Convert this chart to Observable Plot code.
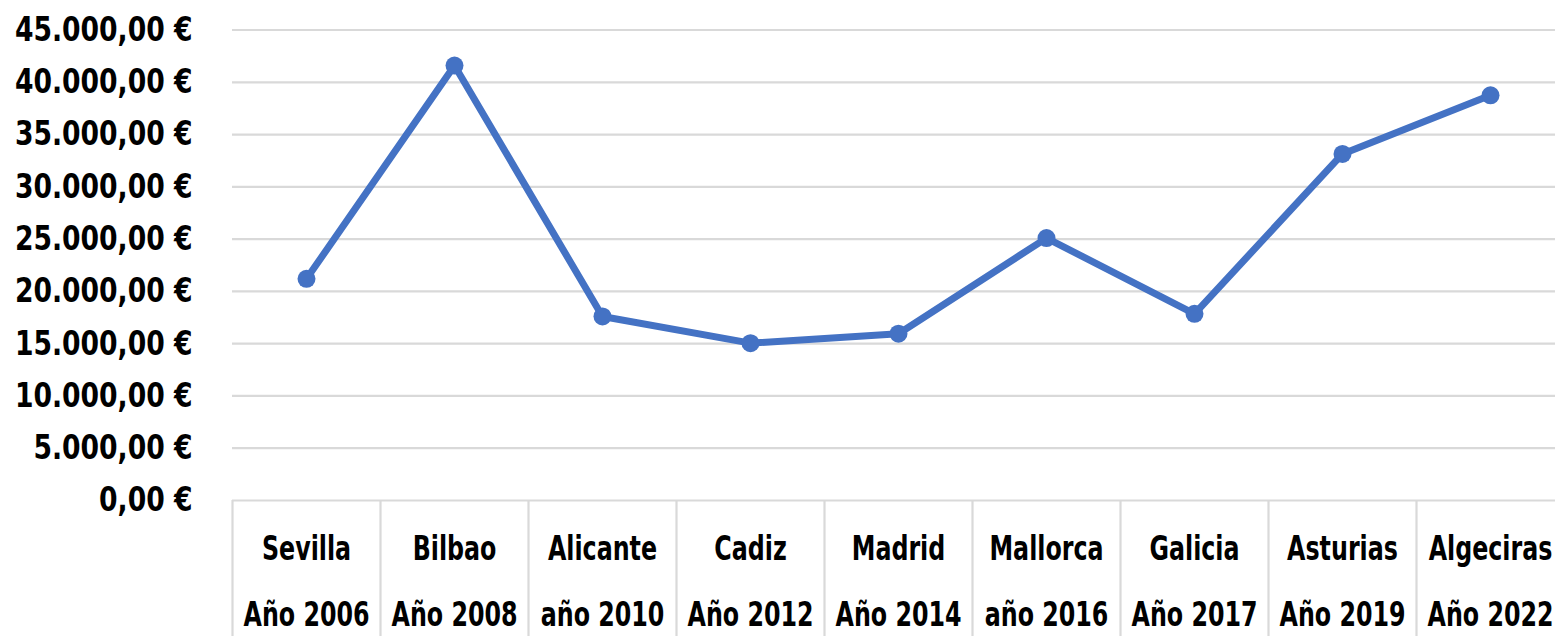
<!DOCTYPE html>
<html>
<head>
<meta charset="utf-8">
<script src="https://cdn.jsdelivr.net/npm/d3@7"></script>
<script src="https://cdn.jsdelivr.net/npm/@observablehq/plot@0.6"></script>
<style>
  html, body { margin: 0; padding: 0; background: #fff; }
  #chart svg { display: block; }
</style>
</head>
<body>
<div id="chart"></div>
<script>
const places = ["Sevilla", "Bilbao", "Alicante", "Cadiz", "Madrid", "Mallorca", "Galicia", "Asturias", "Algeciras"];
const years = ["Año 2006", "Año 2008", "año 2010", "Año 2012", "Año 2014", "año 2016", "Año 2017", "Año 2019", "Año 2022"];
const values = [21200, 41600, 17600, 15050, 15950, 25100, 17850, 33150, 38750];
const yTicks = [0, 5000, 10000, 15000, 20000, 25000, 30000, 35000, 40000, 45000];

const data = places.map((p, i) => ({key: p, year: years[i], value: values[i]}));
const labelOf = new Map(data.map(d => [d.key, d.key + "\n" + d.year]));

const euroFmt = d => {
  const [intPart, dec] = d.toFixed(2).split(".");
  return intPart.replace(/\B(?=(\d{3})+(?!\d))/g, ".") + "," + dec + " €";
};

const W = 1555, H = 636;
const left = 232;
const xRange = [left, 1564];
const band = (xRange[1] - xRange[0]) / places.length;
const font = "'DejaVu Sans Condensed', 'DejaVu Sans', sans-serif";

const chart = Plot.plot({
  width: W,
  height: H,
  marginLeft: left,
  marginRight: 0,
  marginTop: 29.5,
  marginBottom: 136,
  style: {fontFamily: font, fontWeight: "bold", color: "#000", background: "#fff"},
  x: {type: "band", domain: places, range: xRange, padding: 0},
  y: {domain: [0, 45000], range: [500, 29.5]},
  marks: [
    Plot.gridY(yTicks, {stroke: "#d9d9d9", strokeOpacity: 1, strokeWidth: 2.2}),
    Plot.axisY(yTicks, {
      tickSize: 0, tickPadding: 40, tickFormat: euroFmt, label: null,
      fontSize: 34, fontWeight: "bold", fill: "#000"
    }),
    Plot.axisX({
      tickSize: 136, fill: "none", stroke: "#d9d9d9", strokeWidth: 2.2, strokeOpacity: 1,
      dx: -band / 2, label: null
    }),
    Plot.axisX({
      tickSize: 0, tickPadding: 12, tickFormat: d => labelOf.get(d), label: null,
      fontSize: 33, lineHeight: 2.02, fill: "#000", fontWeight: "bold"
    }),
    Plot.line(data, {x: "key", y: "value", stroke: "#4472C4", strokeWidth: 7, strokeLinejoin: "round", strokeLinecap: "round"}),
    Plot.dot(data, {x: "key", y: "value", r: 9, fill: "#4472C4", stroke: "none"})
  ]
});

// condense the glyphs horizontally around each label's anchor
function squeeze(selector, k) {
  chart.querySelectorAll(selector).forEach(t => {
    const tr = t.getAttribute("transform") || "";
    t.setAttribute("transform", tr + ` scale(${k},1)`);
  });
}
squeeze('g[aria-label="y-axis tick label"] text', 0.87);
squeeze('g[aria-label="x-axis tick label"] text', 0.8);

document.getElementById("chart").appendChild(chart);
</script>
</body>
</html>
